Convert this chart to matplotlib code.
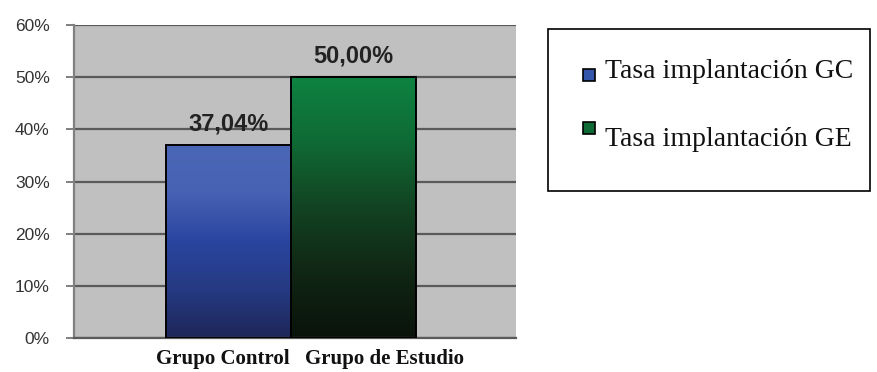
import matplotlib
matplotlib.use("Agg")
import matplotlib.pyplot as plt
import numpy as np
from matplotlib.colors import LinearSegmentedColormap
from matplotlib.patches import Rectangle

categories = ["Grupo Control", "Grupo de Estudio"]
values = [37.04, 50.00]
value_labels = ["37,04%", "50,00%"]
legend_labels = ["Tasa implantación GC", "Tasa implantación GE"]
yticks = [0, 10, 20, 30, 40, 50, 60]

# gradient stops, top -> bottom
gradients = [
    ["#4a67b6", "#4762b2", "#2a45a0", "#253a82", "#1f2659"],
    ["#0e8241", "#0f6a34", "#124322", "#102614", "#0a130a"],
]
swatch = ["#3355aa", "#0e6a34"]

fig = plt.figure(figsize=(8.77, 3.72), dpi=100)
ax = fig.add_axes([74 / 877, 34 / 372, 442 / 877, 313 / 372])
ax.set_facecolor("#c0c0c0")

x = np.arange(len(categories))
bars = ax.bar(x, values, width=1.0, color="none", edgecolor="black",
              linewidth=1.4, zorder=3)

for bar, stops in zip(bars, gradients):
    cmap = LinearSegmentedColormap.from_list("g", stops)
    grad = np.linspace(0, 1, 256).reshape(-1, 1)
    bx, bw, bh = bar.get_x(), bar.get_width(), bar.get_height()
    im = ax.imshow(grad, cmap=cmap, aspect="auto", origin="upper",
                   extent=(bx, bx + bw, 0, bh), zorder=2)
    im.set_clip_path(bar)

for xi, v, lab in zip(x, values, value_labels):
    ax.annotate(lab, (xi, v), xytext=(0, 7), textcoords="offset points",
                ha="center", va="bottom", fontsize=17, fontweight="bold",
                family="Liberation Sans", color="#222222", zorder=4)

ax.set_xlim(-1.24, 2.3)
ax.set_ylim(0, 60)
ax.set_yticks(yticks)
ax.set_yticklabels([f"{t}%" for t in yticks], family="Liberation Sans",
                   fontsize=12.5, color="#333333")
ax.yaxis.grid(True, color="#5a5a5a", linewidth=1.6, zorder=1)
ax.set_axisbelow(True)
ax.tick_params(axis="y", length=6, width=1.4, color="#808080", pad=11.5)

# category labels sit slightly apart, like the original
ax.set_xticks([])
label_pos = [(0.49, "right"), (0.61, "left")]
for cat, (px, ha) in zip(categories, label_pos):
    ax.text(px, -0.035, cat, transform=ax.get_xaxis_transform(), ha=ha,
            va="top", family="Liberation Serif", fontweight="bold",
            fontsize=15, color="#111111")

for s in ["top", "right"]:
    ax.spines[s].set_visible(False)
ax.spines["left"].set_color("#808080")
ax.spines["left"].set_linewidth(1.6)
ax.spines["bottom"].set_color("#5a5a5a")
ax.spines["bottom"].set_linewidth(1.6)

# legend box
fig.add_artist(Rectangle((548 / 877, 1 - 191 / 372), 322 / 877, 162 / 372,
                         transform=fig.transFigure, facecolor="white",
                         edgecolor="black", linewidth=1.2))
marker_y = [75, 128]
text_y = [71, 140]
for lab, c, my, ty in zip(legend_labels, swatch, marker_y, text_y):
    fig.add_artist(Rectangle((583 / 877, 1 - (my + 6) / 372), 12 / 877, 12 / 372,
                             transform=fig.transFigure, facecolor=c,
                             edgecolor="black", linewidth=1.2))
    fig.text(605 / 877, 1 - ty / 372, lab, family="Liberation Serif",
             fontsize=20, va="center", ha="left", color="#111111")

fig.savefig("out.png", dpi=100)
